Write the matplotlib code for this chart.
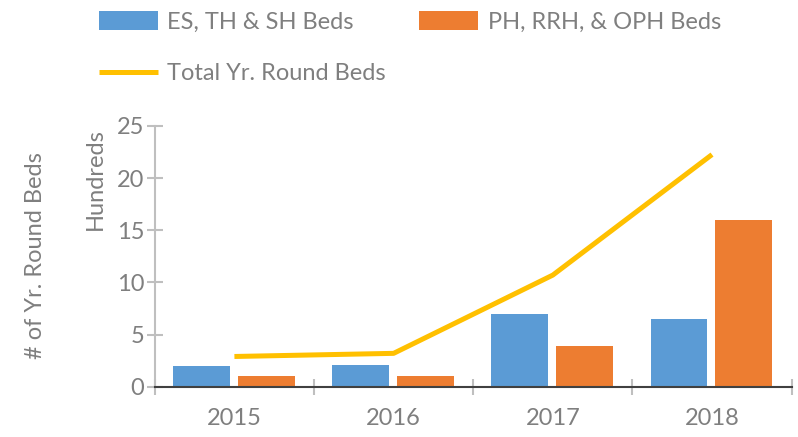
import numpy as np
import matplotlib
matplotlib.use("Agg")
import matplotlib.pyplot as plt
from matplotlib.ticker import FixedLocator

plt.rcParams["font.family"] = ["Lato", "DejaVu Sans"]

years = ["2015", "2016", "2017", "2018"]
es_th_sh = [2.0, 2.1, 7.0, 6.5]
ph_rrh_oph = [1.0, 1.05, 3.9, 15.95]
total_beds = [2.9, 3.2, 10.7, 22.25]

BLUE = "#5B9BD5"
ORANGE = "#ED7D31"
GOLD = "#FFC000"
TXT = "#7f7f7f"
GRID = "#bfbfbf"

fig = plt.figure(figsize=(7.98, 4.37), dpi=100)
ax = fig.add_axes([0.194, 0.115, 0.798, 0.597])

x = np.arange(len(years))
w = 0.357
b1 = ax.bar(x - 0.207, es_th_sh, w, color=BLUE, label="ES, TH & SH Beds", zorder=2)
b2 = ax.bar(x + 0.2, ph_rrh_oph, w, color=ORANGE, label="PH, RRH, & OPH Beds", zorder=2)
ln, = ax.plot(x, total_beds, color=GOLD, lw=3.6, label="Total Yr. Round Beds", zorder=3,
              solid_capstyle="butt")

ax.set_xlim(-0.5, 3.5)
ax.set_ylim(0, 25)
ax.set_yticks([0, 5, 10, 15, 20, 25])
ax.set_xticks(x)
ax.set_xticklabels(years)
ax.xaxis.set_minor_locator(FixedLocator(np.arange(-0.5, 4.0, 1.0)))

for s in ["top", "right"]:
    ax.spines[s].set_visible(False)
ax.spines["left"].set_color(GRID)
ax.spines["left"].set_linewidth(1.5)
ax.spines["bottom"].set_color("#404040")
ax.spines["bottom"].set_linewidth(1.5)
ax.spines["bottom"].set_zorder(4)

ax.tick_params(axis="y", direction="inout", length=11, width=1.5, color=GRID,
               labelsize=17, labelcolor=TXT, pad=2)
ax.tick_params(axis="x", which="major", length=0, labelsize=17, labelcolor=TXT, pad=15)
ax.tick_params(axis="x", which="minor", direction="inout", length=11, width=1.5, color=GRID)

# axis titles: "Hundreds" sits high next to the axis, main title centred lower
fig.text(0.119, 0.590, "Hundreds", rotation=90, fontsize=17, color=TXT,
         ha="center", va="center")
fig.text(0.044, 0.415, "# of Yr. Round Beds", rotation=90, fontsize=17, color=TXT,
         ha="center", va="center")

fig.legend(handles=[b1, ln, b2], loc="upper left", bbox_to_anchor=(0.118, 0.986), ncol=2,
           frameon=False, fontsize=17, labelcolor=TXT, handlelength=2.5,
           handleheight=0.9, handletextpad=0.4, columnspacing=1.4, labelspacing=1.26,
           borderaxespad=0.0, borderpad=0.2)

fig.savefig("out.png", dpi=100)
